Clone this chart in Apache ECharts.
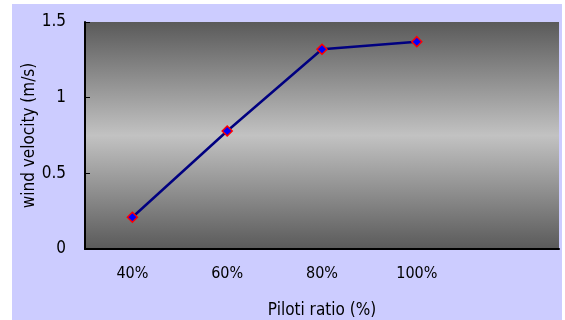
<!DOCTYPE html>
<html><head><meta charset="utf-8">
<script src="https://cdn.jsdelivr.net/npm/echarts@6/dist/echarts.min.js"></script>
<style>html,body{margin:0;padding:0;background:#fff;width:565px;height:320px;overflow:hidden}
#c{position:absolute;left:12px;top:4px;width:550px;height:316px;background:#CCCCFF}</style>
</head><body><div id="c"></div>
<script>
const categories = ['40%', '60%', '80%', '100%', ''];
const velocity = [0.21, 0.78, 1.32, 1.37];
const yTicks = [0, 0.5, 1, 1.5];

const chart = echarts.init(document.getElementById('c'), null, {renderer: 'canvas'});
const font = 'DejaVu Sans Condensed, DejaVu Sans';
chart.setOption({
  backgroundColor: '#CCCCFF',
  animation: false,
  grid: {
    left: 73, top: 18, right: 3, bottom: 71, show: true, borderWidth: 0,
    containLabel: false, outerBoundsMode: 'none',
    backgroundColor: {
      type: 'linear', x: 0, y: 0, x2: 0, y2: 1,
      colorStops: [
        {offset: 0, color: '#5a5a5a'},
        {offset: 0.5, color: '#c2c2c2'},
        {offset: 1, color: '#5a5a5a'}
      ]
    }
  },
  xAxis: {
    type: 'category', data: categories, boundaryGap: true,
    name: 'Piloti ratio (%)', nameLocation: 'middle', nameGap: 53, nameMoveOverlap: false,
    nameTextStyle: {fontFamily: font, fontSize: 17, color: '#000'},
    axisLine: {lineStyle: {color: '#000', width: 2}},
    axisTick: {inside: true, length: 5, lineStyle: {color: '#000', width: 1}, alignWithLabel: false},
    axisLabel: {fontFamily: font, fontSize: 16, color: '#000', margin: 17},
    splitLine: {show: false}
  },
  yAxis: {
    type: 'value', min: 0, max: 1.5, interval: 0.5,
    name: 'wind velocity (m/s)', nameLocation: 'middle', nameGap: 47, nameRotate: 90, nameMoveOverlap: false,
    nameTextStyle: {fontFamily: font, fontSize: 17, color: '#000'},
    axisLine: {show: true, lineStyle: {color: '#000', width: 2}},
    axisTick: {show: true, inside: true, length: 5, lineStyle: {color: '#000', width: 1}},
    axisLabel: {fontFamily: font, fontSize: 17, color: '#000', margin: 19,
      formatter: v => yTicks.includes(v) ? String(v) : ''},
    splitLine: {show: false}
  },
  series: [{
    type: 'line', data: velocity,
    symbol: 'diamond', symbolSize: 10,
    lineStyle: {color: '#000080', width: 2.5},
    itemStyle: {color: '#0000ff', borderColor: '#ff0000', borderWidth: 1.5}
  }]
});
</script></body></html>
